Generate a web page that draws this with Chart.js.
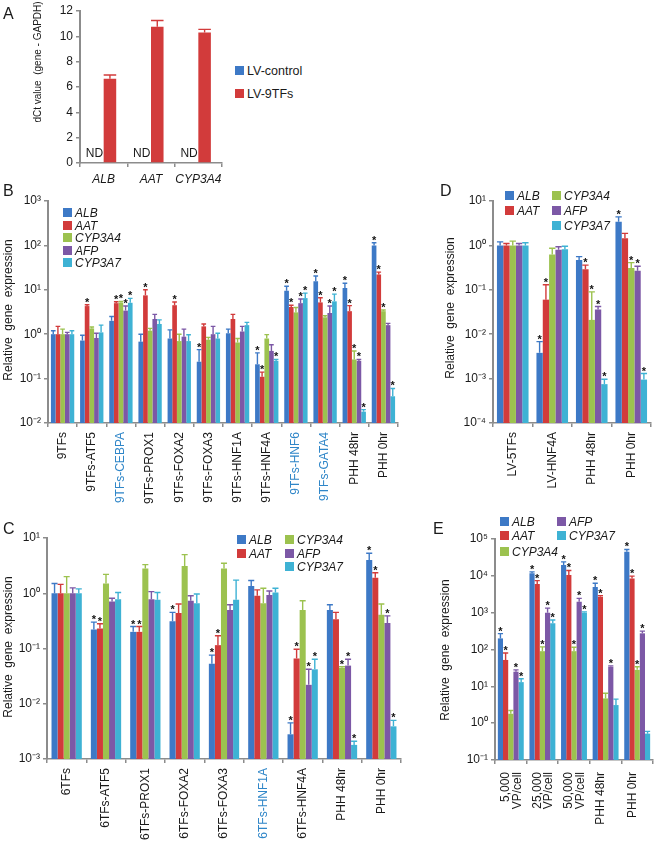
<!DOCTYPE html>
<html><head><meta charset="utf-8">
<script src="https://cdn.jsdelivr.net/npm/chart.js@4.4.1/dist/chart.umd.min.js"></script>
<style>
html,body{margin:0;padding:0;background:#fff;}
body{width:660px;height:842px;position:relative;overflow:hidden;font-family:'Liberation Sans',Arial,sans-serif;color:#1a1a1a;}
canvas{position:absolute;}
.plbl{position:absolute;font-size:16px;line-height:16px;}
.ytitle{position:absolute;white-space:pre;font-size:12px;line-height:12px;transform:translate(-50%,-50%) rotate(-90deg);}
.leg{position:absolute;white-space:nowrap;font-size:12px;line-height:12px;font-style:italic;}
.leg span.box{position:absolute;left:0;top:1px;width:9px;height:9px;}
.leg span.t{position:absolute;left:12px;top:0;}
</style>
</head><body>
<script>
// ---------------- DATA ----------------
const genes = ['ALB','AAT','CYP3A4','AFP','CYP3A7'];

// Panel A
const aCategories = ['ALB','AAT','CYP3A4'];
const aSeries = ['LV-control','LV-9TFs'];
const aControl = [0,0,0];
const aControlNotes = ['ND','ND','ND'];
const a9TFs = [6.65,10.75,10.3];
const a9TFsHi = [6.95,11.25,10.55];
const aTicks = [0,2,4,6,8,10,12];

// Panel B
const bCategories = ['9TFs','9TFs-ATF5','9TFs-CEBPA','9TFs-PROX1','9TFs-FOXA2','9TFs-FOXA3','9TFs-HNF1A','9TFs-HNF4A','9TFs-HNF6','9TFs-GATA4','PHH 48hr','PHH 0hr'];
const bALB    = [1.0,0.72,2.0,0.68,0.8,0.24,1.05,0.21,9.5,15.5,11,100];
const bALBHi  = [1.2,0.95,2.5,1.0,1.25,0.45,1.3,0.38,12,20.5,14,115];
const bALBSig = [0,0,0,0,0,1,0,1,1,1,1,1];
const bAAT    = [1.0,4.3,5.0,7.5,4.5,1.5,2.2,0.11,4.1,5.2,3.3,22];
const bAATHi  = [1.5,4.6,5.4,10,5.3,1.7,2.8,0.14,4.5,6.6,4.4,25];
const bAATSig = [0,1,1,1,1,0,0,1,1,1,1,1];
const bCYP3A4    = [1.0,1.35,5.2,1.2,0.7,0.75,0.65,0.8,3.1,2.4,0.27,3.3];
const bCYP3A4Hi  = [1.3,1.45,5.5,1.35,1.0,0.85,0.8,0.98,4.0,2.6,0.42,3.5];
const bCYP3A4Sig = [0,0,1,0,0,0,0,0,0,0,1,1];
const bAFP    = [1.0,0.82,3.4,2.2,0.88,1.0,1.15,0.42,5.0,3.0,0.25,1.6];
const bAFPHi  = [1.1,1.05,4.3,2.8,1.3,1.5,1.5,0.58,6.2,4.3,0.27,1.75];
const bAFPSig = [0,0,1,0,0,0,0,0,1,1,1,0];
const bCYP3A7    = [1.0,1.1,5.1,1.7,0.7,0.8,1.6,0.25,6.5,5.5,0.018,0.04];
const bCYP3A7Hi  = [1.2,1.6,6.4,2.1,0.97,1.05,1.85,0.27,8.4,8.0,0.02,0.06];
const bCYP3A7Sig = [0,0,1,0,0,0,0,1,1,1,1,1];
const bTicks = [1e-2,1e-1,1e0,1e1,1e2,1e3];
const bTickLabels = ['10⁻²','10⁻¹','10⁰','10¹','10²','10³'];

// Panel C
const cCategories = ['6TFs','6TFs-ATF5','6TFs-PROX1','6TFs-FOXA2','6TFs-FOXA3','6TFs-HNF1A','6TFs-HNF4A','PHH 48hr','PHH 0hr'];
const cALB    = [1.0,0.22,0.2,0.31,0.053,1.35,0.0028,0.5,4.0];
const cALBHi  = [1.5,0.3,0.25,0.45,0.076,1.7,0.0045,0.62,5.3];
const cALBSig = [0,1,1,1,1,0,1,0,1];
const cAAT    = [1.0,0.23,0.2,0.44,0.115,0.9,0.066,0.34,1.9];
const cAATHi  = [1.45,0.28,0.25,0.64,0.17,1.15,0.097,0.45,2.35];
const cAATSig = [0,1,1,0,1,0,1,0,1];
const cCYP3A4    = [1.0,1.5,2.8,3.1,2.8,0.66,0.5,0.045,0.41];
const cCYP3A4Hi  = [2.0,2.2,3.3,5.0,3.5,1.23,0.73,0.047,0.64];
const cCYP3A4Sig = [0,0,0,0,0,0,0,1,0];
const cAFP    = [1.0,0.71,0.78,0.73,0.5,0.93,0.022,0.049,0.29];
const cAFPHi  = [1.25,0.81,1.07,0.9,0.62,1.1,0.042,0.064,0.39];
const cAFPSig = [0,0,0,0,0,0,1,1,1];
const cCYP3A7    = [1.0,0.78,0.76,0.66,0.76,1.03,0.042,0.0018,0.0039];
const cCYP3A7Hi  = [1.2,1.03,1.03,0.97,1.73,1.23,0.064,0.0021,0.005];
const cCYP3A7Sig = [0,0,0,0,0,0,1,1,1];
const cTicks = [1e-3,1e-2,1e-1,1e0,1e1];
const cTickLabels = ['10⁻³','10⁻²','10⁻¹','10⁰','10¹'];

// Panel D
const dCategories = ['LV-5TFs','LV-HNF4A','PHH 48hr','PHH 0hr'];
const dALB    = [1.0,0.0038,0.47,3.4];
const dALBHi  = [1.2,0.0068,0.56,4.4];
const dALBSig = [0,1,0,1];
const dAAT    = [1.0,0.06,0.29,1.45];
const dAATHi  = [1.1,0.13,0.36,1.87];
const dAATSig = [0,1,1,0];
const dCYP3A4    = [1.0,0.62,0.021,0.31];
const dCYP3A4Hi  = [1.25,0.86,0.09,0.41];
const dCYP3A4Sig = [0,0,1,1];
const dAFP    = [1.0,0.8,0.036,0.27];
const dAFPHi  = [1.1,0.93,0.042,0.34];
const dAFPSig = [0,0,1,1];
const dCYP3A7    = [1.0,0.82,0.00075,0.00095];
const dCYP3A7Hi  = [1.15,0.96,0.00097,0.0013];
const dCYP3A7Sig = [0,0,1,1];
const dTicks = [1e-4,1e-3,1e-2,1e-1,1e0,1e1];
const dTickLabels = ['10⁻⁴','10⁻³','10⁻²','10⁻¹','10⁰','10¹'];

// Panel E
const eCategories = [['5,000','VP/cell'],['25,000','VP/cell'],['50,000','VP/cell'],'PHH 48hr','PHH 0hr'];
const eALB    = [200,11700,19600,5000,45000];
const eALBHi  = [270,12800,24000,6300,52000];
const eALBSig = [1,1,1,1,1];
const eAAT    = [52,6000,10500,2700,8500];
const eAATHi  = [80,7400,14000,2900,9800];
const eAATSig = [1,1,1,1,1];
const eCYP3A4    = [1.8,90,90,4.7,28];
const eCYP3A4Hi  = [2.2,118,115,6.5,34];
const eCYP3A4Sig = [0,1,1,0,1];
const eAFP    = [25,1000,1980,34,275];
const eAFPHi  = [28,1330,2440,36,316];
const eAFPSig = [1,1,1,1,1];
const eCYP3A7    = [13,515,1000,3.1,0.52];
const eCYP3A7Hi  = [16,630,1050,4.5,0.6];
const eCYP3A7Sig = [1,1,1,0,0];
const eTicks = [1e-1,1e0,1e1,1e2,1e3,1e4,1e5];
const eTickLabels = ['10⁻¹','10⁰','10¹','10²','10³','10⁴','10⁵'];

// ---------------- STYLE ----------------
const FONT = "'Liberation Sans', Arial, sans-serif";
const GENE_COLORS = {ALB:'#3d79c6',AAT:'#d23b3b',CYP3A4:'#9cc24f',AFP:'#7c58a6',CYP3A7:'#3eb2d4'};
const AXIS = '#8c8c8c';
const TEXT = '#1a1a1a';
const HILITE = '#2f86c8';
const bHighlighted = ['9TFs-CEBPA','9TFs-HNF6','9TFs-GATA4'];
const cHighlighted = ['6TFs-HNF1A'];

// ---------------- PLUGINS ----------------
const errorPlugin = {
  id:'errbars',
  afterDatasetsDraw(chart){
    const ctx = chart.ctx, ys = chart.scales.y;
    chart.data.datasets.forEach((ds,i)=>{
      if(!ds.hi) return;
      const meta = chart.getDatasetMeta(i);
      meta.data.forEach((el,j)=>{
        const hi = ds.hi[j];
        if(hi==null) return;
        const yTop = ys.getPixelForValue(hi);
        const half = el.width/2;
        ctx.save();
        ctx.strokeStyle = ds.backgroundColor;
        ctx.lineWidth = 1.4;
        ctx.beginPath();
        ctx.moveTo(el.x, el.y); ctx.lineTo(el.x, yTop);
        ctx.moveTo(el.x-half, yTop); ctx.lineTo(el.x+half, yTop);
        ctx.stroke();
        if(ds.sig && ds.sig[j]){
          ctx.fillStyle = '#111';
          ctx.font = 'bold 11px '+FONT;
          ctx.textAlign = 'center';
          ctx.textBaseline = 'alphabetic';
          ctx.fillText('*', el.x, yTop+1);
        }
        ctx.restore();
      });
    });
  }
};
const ndPlugin = {
  id:'nd',
  afterDatasetsDraw(chart, args, opts){
    if(!opts || !opts.notes) return;
    const ctx = chart.ctx;
    const meta = chart.getDatasetMeta(0);
    ctx.save();
    ctx.font = '12px '+FONT;
    ctx.fillStyle = TEXT;
    ctx.textAlign = 'center';
    ctx.textBaseline = 'middle';
    meta.data.forEach((el,j)=>{
      ctx.fillText(opts.notes[j], el.x-3, chart.chartArea.bottom-9);
    });
    ctx.restore();
  }
};

// ---------------- HELPERS ----------------
function geneDatasets(vals, his, sigs, catPct){
  return genes.map((g,k)=>({
    label:g, data:vals[k], hi:his[k], sig:sigs[k],
    backgroundColor:GENE_COLORS[g], borderWidth:0,
    categoryPercentage:catPct, barPercentage:1.0
  }));
}
function logY(box, area, ticks, labels){
  return {
    type:'logarithmic', min:ticks[0], max:ticks[ticks.length-1],
    afterBuildTicks: s => { s.ticks = ticks.map(v=>({value:v})); },
    afterFit: s => { s.width = area.left - box.x; },
    ticks:{ callback:(v,i)=>labels[i], font:{family:FONT,size:12}, color:TEXT, padding:3 },
    grid:{ drawOnChartArea:false, drawTicks:true, tickLength:4, color:AXIS, lineWidth:1.5 },
    border:{ color:AXIS, width:2 }
  };
}
function catX(box, area, labels, o){
  const hl = o.hl || [];
  return {
    type:'category', offset:true,
    afterFit: s => { s.height = box.y + box.h - area.bottom; },
    ticks:{ autoSkip:false, maxRotation:o.rot, minRotation:o.rot, padding:o.pad, labelOffset:o.shift||0,
      font:{family:FONT,size:12,style:o.italic?'italic':'normal',lineHeight:o.lh||1.0},
      color: ctx => hl.includes(labels[ctx.index]) ? HILITE : TEXT },
    grid:{ drawOnChartArea:false, drawTicks:true, tickLength:4, color:AXIS, lineWidth:1.5, offset:true },
    border:{ color:AXIS, width:1.5 }
  };
}
function makeChart(box, area, labels, datasets, xs, ys, extra){
  const c = document.createElement('canvas');
  c.width = box.w; c.height = box.h;
  c.style.left = box.x+'px'; c.style.top = box.y+'px';
  c.style.width = box.w+'px'; c.style.height = box.h+'px';
  document.body.appendChild(c);
  return new Chart(c, {
    type:'bar',
    data:{labels, datasets},
    options:{
      responsive:false, animation:false, devicePixelRatio:1,
      layout:{padding:{left:0, top:area.top-box.y, right:box.x+box.w-area.right, bottom:0}},
      plugins:{legend:{display:false}, tooltip:{enabled:false}, nd:extra||{}},
      scales:{x:xs, y:ys}
    },
    plugins:[errorPlugin, ndPlugin]
  });
}
function addDiv(cls, html, style){
  const d = document.createElement('div');
  d.className = cls; d.innerHTML = html;
  Object.assign(d.style, style);
  document.body.appendChild(d);
  return d;
}
function legend(items, italic, size){
  items.forEach(it=>{
    addDiv('leg', '<span class="box" style="background:'+it.color+'"></span><span class="t">'+it.text+'</span>',
      {left:it.x+'px', top:(it.y-6)+'px', fontStyle: italic?'italic':'normal', fontSize:(size||12)+'px'});
  });
}

// ---------------- PANEL A ----------------
{
  const box = {x:0,y:0,w:232,h:195}, area = {left:80,top:11,right:222,bottom:163};
  const ys = {
    type:'linear', min:0, max:12,
    afterBuildTicks: s => { s.ticks = aTicks.map(v=>({value:v})); },
    afterFit: s => { s.width = area.left - box.x; },
    ticks:{ font:{family:FONT,size:12}, color:TEXT, padding:3 },
    grid:{ drawOnChartArea:false, drawTicks:true, tickLength:4, color:AXIS, lineWidth:1.5 },
    border:{ color:AXIS, width:2 }
  };
  const ds = [
    {label:aSeries[0], data:aControl, backgroundColor:GENE_COLORS.ALB, borderWidth:0, categoryPercentage:0.53, barPercentage:1},
    {label:aSeries[1], data:a9TFs, hi:a9TFsHi, backgroundColor:GENE_COLORS.AAT, borderWidth:0, categoryPercentage:0.53, barPercentage:1}
  ];
  makeChart(box, area, aCategories, ds, catX(box, area, aCategories, {rot:0, pad:7, italic:true}), ys, {notes:aControlNotes});
  legend([
    {x:235,y:71,color:GENE_COLORS.ALB,text:aSeries[0]},
    {x:235,y:94,color:GENE_COLORS.AAT,text:aSeries[1]}
  ], false, 12.5);
  addDiv('ytitle','dCt value  (gene - GAPDH)',{left:'38px',top:'62px',fontSize:'10px'});
  addDiv('plbl','A',{left:'3px',top:'6px'});
}

// ---------------- PANEL B ----------------
{
  const box = {x:0,y:190,w:404,h:320}, area = {left:48,top:201,right:398,bottom:423};
  const ds = geneDatasets([bALB,bAAT,bCYP3A4,bAFP,bCYP3A7],[bALBHi,bAATHi,bCYP3A4Hi,bAFPHi,bCYP3A7Hi],[bALBSig,bAATSig,bCYP3A4Sig,bAFPSig,bCYP3A7Sig],0.8);
  makeChart(box, area, bCategories, ds, catX(box, area, bCategories, {rot:90, pad:5, hl:bHighlighted}), logY(box, area, bTicks, bTickLabels));
  const rows = [213.3,225.8,238.3,250.5,262.7];
  legend(genes.map((g,k)=>({x:63,y:rows[k],color:GENE_COLORS[g],text:g})), true);
  addDiv('ytitle','Relative  gene  expression',{left:'8px',top:'310px'});
  addDiv('plbl','B',{left:'3px',top:'183px'});
}

// ---------------- PANEL C ----------------
{
  const box = {x:0,y:525,w:406,h:317}, area = {left:47,top:538,right:401,bottom:759};
  const ds = geneDatasets([cALB,cAAT,cCYP3A4,cAFP,cCYP3A7],[cALBHi,cAATHi,cCYP3A4Hi,cAFPHi,cCYP3A7Hi],[cALBSig,cAATSig,cCYP3A4Sig,cAFPSig,cCYP3A7Sig],0.77);
  makeChart(box, area, cCategories, ds, catX(box, area, cCategories, {rot:90, pad:5, hl:cHighlighted}), logY(box, area, cTicks, cTickLabels));
  const pos = [[237,540],[237,553.5],[285,540],[285,553.5],[285,567]];
  legend(genes.map((g,k)=>({x:pos[k][0],y:pos[k][1],color:GENE_COLORS[g],text:g})), true);
  addDiv('ytitle','Relative  gene  expression',{left:'8px',top:'647px'});
  addDiv('plbl','C',{left:'3px',top:'521px'});
}

// ---------------- PANEL D ----------------
{
  const box = {x:440,y:190,w:218,h:320}, area = {left:493,top:201,right:651,bottom:423};
  const ds = geneDatasets([dALB,dAAT,dCYP3A4,dAFP,dCYP3A7],[dALBHi,dAATHi,dCYP3A4Hi,dAFPHi,dCYP3A7Hi],[dALBSig,dAATSig,dCYP3A4Sig,dAFPSig,dCYP3A7Sig],0.8);
  makeChart(box, area, dCategories, ds, catX(box, area, dCategories, {rot:90, pad:5}), logY(box, area, dTicks, dTickLabels));
  const pos = [[505,196],[505,211],[552,196],[552,211],[552,226]];
  legend(genes.map((g,k)=>({x:pos[k][0],y:pos[k][1],color:GENE_COLORS[g],text:g})), true);
  addDiv('ytitle','Relative  gene  expression',{left:'450px',top:'308px'});
  addDiv('plbl','D',{left:'440px',top:'183px'});
}

// ---------------- PANEL E ----------------
{
  const box = {x:440,y:525,w:220,h:317}, area = {left:495,top:539,right:653,bottom:760};
  const ds = geneDatasets([eALB,eAAT,eCYP3A4,eAFP,eCYP3A7],[eALBHi,eAATHi,eCYP3A4Hi,eAFPHi,eCYP3A7Hi],[eALBSig,eAATSig,eCYP3A4Sig,eAFPSig,eCYP3A7Sig],0.82);
  makeChart(box, area, eCategories, ds, catX(box, area, eCategories, {rot:90, pad:8, shift:-5, lh:0.95}), logY(box, area, eTicks, eTickLabels));
  const pos = [[500,521.5],[500,536],[500,551.5],[557,521.5],[557,536]];
  legend(genes.map((g,k)=>({x:pos[k][0],y:pos[k][1],color:GENE_COLORS[g],text:g})), true);
  addDiv('ytitle','Relative  gene  expression',{left:'445px',top:'650px'});
  addDiv('plbl','E',{left:'433px',top:'521px'});
}
</script>
</body></html>
